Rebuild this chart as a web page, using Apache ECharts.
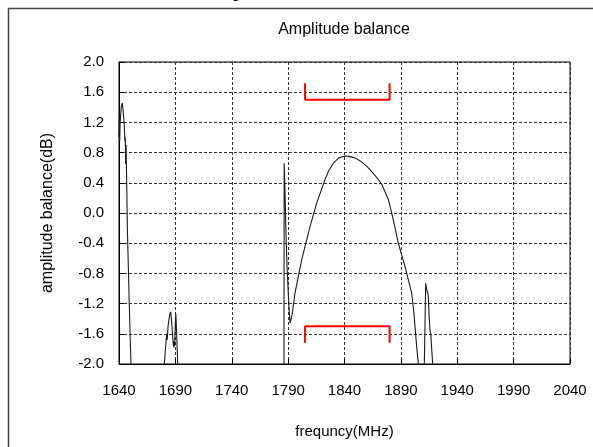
<!DOCTYPE html>
<html>
<head>
<meta charset="utf-8">
<script src="https://cdn.jsdelivr.net/npm/echarts@6/dist/echarts.min.js"></script>
<style>
html,body{margin:0;padding:0;background:#fff;}
#c{width:593px;height:447px;}
</style>
</head>
<body>
<div id="c"></div>
<script>
// ---- data ----
const xTicks = { min: 1640, max: 2040, step: 50 };
const yTicks = { min: -2.0, max: 2.0, step: 0.4 };

const seg1Freq = [1639.8,1640.0,1640.3,1640.6,1641.0,1642.0,1642.9,1643.7,1644.7,1645.2,1645.6,1645.9,1646.3,1647.5,1649.0,1650.6,1651.0];
const seg1Val  = [1.05,1.0,1.25,0.95,1.2,1.40,1.46,1.35,1.15,0.95,1.0,0.65,0.90,-0.25,-1.15,-2.0,-2.25];

const seg2Freq = [1679.8,1680.2,1681.5,1682.3,1682.8,1683.5,1685.0,1685.9,1687.0,1688.0,1688.6,1689.0,1689.3,1690.0,1690.4,1691.0,1692.1,1692.4];
const seg2Val  = [-2.2,-2.0,-1.75,-1.60,-1.68,-1.50,-1.34,-1.31,-1.50,-1.72,-1.78,-1.70,-1.76,-1.45,-1.33,-1.55,-2.0,-2.2];

const seg3Freq = [1786.3,1786.5,1787.2,1787.8,1789.0,1790.1,1791.0,1791.7,1793.5,1796.1,1802.0,1809.4,1815.3,1822.7,1826.0,1830.1,1835.0,1840.4,1844.0,1849.3,1854.0,1859.7,1864.0,1868.6,1873.0,1878.9,1883.3,1887.7,1893.7,1899.6,1901.6,1904.0,1905.5,1906.0];
const seg3Val  = [-2.2,0.66,0.30,-0.10,-0.70,-1.06,-1.30,-1.46,-1.35,-1.06,-0.62,-0.18,0.13,0.44,0.56,0.66,0.73,0.755,0.75,0.73,0.69,0.62,0.55,0.47,0.38,0.18,-0.09,-0.40,-0.71,-1.06,-1.33,-1.77,-2.0,-2.2];

const seg4Freq = [1910.6,1910.8,1912.0,1912.8,1914.3,1915.0,1915.8,1916.5,1917.2,1918.2,1918.5];
const seg4Val  = [-2.2,-2.0,-0.93,-1.0,-1.10,-1.35,-1.55,-1.60,-1.77,-2.0,-2.2];

const specTopFreq = [1805,1805,1880,1880];
const specTopVal  = [1.72,1.50,1.50,1.72];
const specBotFreq = [1805,1805,1880,1880];
const specBotVal  = [-1.72,-1.50,-1.50,-1.72];

const chartTitle = 'Amplitude balance';
const xName = 'frequncy(MHz)';
const yName = 'amplitude balance(dB)';

// ---- build ----
const zip = (a, b) => a.map((v, i) => [v, b[i]]);
const FONT = "'Liberation Sans', Arial, sans-serif";

const curveStyle = { color: '#1a1a1a', width: 1.1 };
function curve(f, v) {
  return { type: 'line', data: zip(f, v), showSymbol: false, symbol: 'none', clip: true,
           lineStyle: curveStyle, itemStyle: { color: '#1a1a1a' }, silent: true };
}
function spec(f, v) {
  return { type: 'line', data: zip(f, v), showSymbol: false, symbol: 'none', clip: true,
           lineStyle: { color: '#ff0000', width: 2 }, itemStyle: { color: '#ff0000' }, silent: true };
}

const chart = echarts.init(document.getElementById('c'), null, { renderer: 'canvas' });
chart.setOption({
  animation: false,
  backgroundColor: '#fff',
  title: {
    text: chartTitle, left: 339, top: 17, textAlign: 'center',
    textStyle: { fontFamily: FONT, fontSize: 16, fontWeight: 'normal', color: '#000' }
  },
  graphic: [
    { type: 'rect', shape: { x: 8.5, y: 8.5, width: 700, height: 700 },
      style: { fill: 'none', stroke: '#444', lineWidth: 1.5 }, silent: true },
    { type: 'text', style: { x: 311, y: 1, text: chartTitle, font: "bold 28px 'Liberation Sans', Arial, sans-serif",
      fill: '#000', align: 'center', verticalAlign: 'bottom' }, silent: true }
  ],
  grid: { left: 119, right: 23, top: 62, bottom: 83, show: true, borderColor: '#000', borderWidth: 1, backgroundColor: 'transparent' },
  xAxis: {
    type: 'value', min: xTicks.min, max: xTicks.max, interval: xTicks.step,
    name: xName, nameLocation: 'middle', nameGap: 60,
    nameTextStyle: { fontFamily: FONT, fontSize: 15, color: '#000' },
    axisLine: { onZero: false, lineStyle: { color: '#000', width: 1 } },
    axisTick: { inside: true, length: 5, lineStyle: { color: '#000' } },
    axisLabel: { fontFamily: FONT, fontSize: 15, color: '#000', margin: 19, showMinLabel: true, showMaxLabel: true,
      formatter: v => String(Math.round(v)) },
    splitLine: { show: true, lineStyle: { color: '#333', type: [3, 2], width: 1 } }
  },
  yAxis: {
    type: 'value', min: yTicks.min, max: yTicks.max, interval: yTicks.step,
    name: yName, nameLocation: 'middle', nameGap: 63, nameRotate: 90,
    nameTextStyle: { fontFamily: FONT, fontSize: 16, color: '#000' },
    axisLine: { show: true, onZero: false, lineStyle: { color: '#000', width: 1 } },
    axisTick: { show: true, inside: true, length: 5, lineStyle: { color: '#000' } },
    axisLabel: { fontFamily: FONT, fontSize: 15, color: '#000', margin: 15,
      formatter: v => (Math.abs(v) < 1e-9 ? 0 : v).toFixed(1) },
    splitLine: { show: true, lineStyle: { color: '#333', type: [3, 2], width: 1 } }
  },
  series: [
    curve(seg1Freq, seg1Val),
    curve(seg2Freq, seg2Val),
    curve(seg3Freq, seg3Val),
    curve(seg4Freq, seg4Val),
    spec(specTopFreq, specTopVal),
    spec(specBotFreq, specBotVal)
  ]
});
</script>
</body>
</html>
